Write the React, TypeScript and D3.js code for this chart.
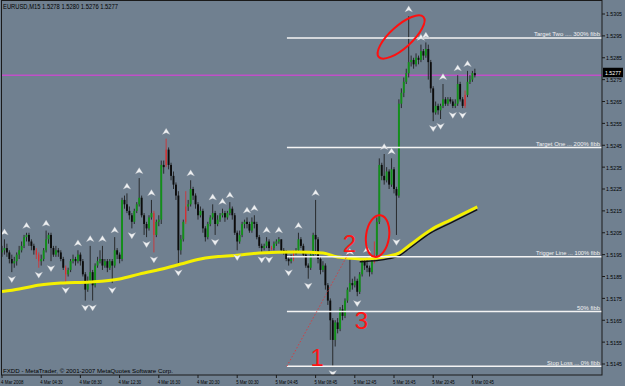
import React from "react";
import * as d3 from "d3";

// ---------- DATA ----------
// [open, high, low, close] for each 15-minute bar (EURUSD M15)
const ohlc: [number, number, number, number][] = [
  [1.5196,1.5199,1.5194,1.5197],[1.5197,1.5202,1.5195,1.5198],[1.5198,1.5200,1.5194,1.5196],[1.5196,1.5197,1.5191,1.5193],
  [1.5193,1.5195,1.5187,1.5191],[1.5191,1.5194,1.5189,1.5192],[1.5192,1.5196,1.5190,1.5195],[1.5195,1.5199,1.5193,1.5197],
  [1.5197,1.5201,1.5196,1.5199],[1.5199,1.5204,1.5198,1.5203],[1.5203,1.5205,1.5201,1.5204],[1.5204,1.5205,1.5199,1.5201],
  [1.5201,1.5202,1.5197,1.5199],[1.5199,1.5200,1.5195,1.5197],[1.5197,1.5198,1.5193,1.5195],[1.5195,1.5196,1.5189,1.5192],
  [1.5192,1.5195,1.5190,1.5193],[1.5193,1.5198,1.5192,1.5197],[1.5197,1.5206,1.5196,1.5202],[1.5202,1.5205,1.5200,1.5204],
  [1.5204,1.5205,1.5192,1.5198],[1.5198,1.5199,1.5194,1.5195],[1.5195,1.5199,1.5194,1.5197],[1.5197,1.5198,1.5194,1.5196],
  [1.5196,1.5197,1.5192,1.5193],[1.5193,1.5194,1.5188,1.5189],[1.5189,1.5190,1.5182,1.5186],[1.5186,1.5189,1.5185,1.5188],
  [1.5188,1.5193,1.5187,1.5192],[1.5192,1.5195,1.5191,1.5193],[1.5193,1.5194,1.5190,1.5192],[1.5192,1.5197,1.5191,1.5195],
  [1.5195,1.5196,1.5190,1.5192],[1.5192,1.5193,1.5185,1.5186],[1.5186,1.5187,1.5174,1.5179],[1.5179,1.5185,1.5178,1.5183],
  [1.5183,1.5199,1.5182,1.5187],[1.5187,1.5188,1.5174,1.5181],[1.5181,1.5191,1.5180,1.5190],[1.5190,1.5194,1.5189,1.5192],
  [1.5192,1.5197,1.5191,1.5193],[1.5193,1.5199,1.5188,1.5190],[1.5190,1.5193,1.5189,1.5192],[1.5192,1.5193,1.5187,1.5189],
  [1.5189,1.5193,1.5188,1.5192],[1.5192,1.5193,1.5182,1.5190],[1.5190,1.5203,1.5189,1.5197],[1.5197,1.5198,1.5193,1.5195],
  [1.5195,1.5196,1.5191,1.5193],[1.5193,1.5221,1.5192,1.5220],[1.5220,1.5222,1.5216,1.5218],[1.5218,1.5223,1.5214,1.5215],
  [1.5215,1.5217,1.5211,1.5213],[1.5213,1.5214,1.5207,1.5210],[1.5210,1.5216,1.5209,1.5215],[1.5215,1.5219,1.5214,1.5218],
  [1.5218,1.5230,1.5217,1.5221],[1.5221,1.5222,1.5212,1.5213],[1.5213,1.5214,1.5204,1.5209],[1.5209,1.5210,1.5203,1.5207],
  [1.5207,1.5213,1.5206,1.5212],[1.5212,1.5220,1.5211,1.5214],[1.5214,1.5215,1.5196,1.5204],[1.5204,1.5211,1.5203,1.5210],
  [1.5210,1.5213,1.5208,1.5211],[1.5211,1.5238,1.5209,1.5236],[1.5236,1.5238,1.5232,1.5235],[1.5236,1.5248,1.5235,1.5243],
  [1.5243,1.5244,1.5234,1.5236],[1.5236,1.5237,1.5229,1.5231],[1.5231,1.5233,1.5225,1.5227],[1.5227,1.5228,1.5220,1.5222],
  [1.5222,1.5224,1.5190,1.5197],[1.5197,1.5204,1.5195,1.5202],[1.5202,1.5211,1.5201,1.5210],[1.5210,1.5224,1.5209,1.5217],
  [1.5217,1.5220,1.5215,1.5218],[1.5218,1.5229,1.5217,1.5225],[1.5225,1.5226,1.5220,1.5222],[1.5222,1.5223,1.5216,1.5218],
  [1.5218,1.5219,1.5211,1.5213],[1.5213,1.5217,1.5212,1.5215],[1.5215,1.5216,1.5205,1.5207],[1.5207,1.5208,1.5201,1.5203],
  [1.5203,1.5210,1.5202,1.5209],[1.5209,1.5213,1.5208,1.5212],[1.5212,1.5218,1.5211,1.5214],[1.5214,1.5215,1.5204,1.5209],
  [1.5209,1.5213,1.5208,1.5211],[1.5211,1.5214,1.5210,1.5213],[1.5213,1.5216,1.5212,1.5214],[1.5214,1.5215,1.5210,1.5212],
  [1.5212,1.5215,1.5211,1.5214],[1.5214,1.5219,1.5213,1.5216],[1.5216,1.5217,1.5211,1.5213],[1.5213,1.5214,1.5204,1.5205],
  [1.5205,1.5206,1.5197,1.5201],[1.5201,1.5206,1.5200,1.5204],[1.5204,1.5210,1.5203,1.5209],[1.5209,1.5211,1.5207,1.5210],
  [1.5210,1.5212,1.5207,1.5209],[1.5209,1.5210,1.5205,1.5206],[1.5206,1.5212,1.5205,1.5210],[1.5210,1.5213,1.5207,1.5209],
  [1.5209,1.5210,1.5202,1.5203],[1.5203,1.5204,1.5198,1.5199],[1.5199,1.5200,1.5196,1.5198],[1.5198,1.5200,1.5197,1.5199],
  [1.5199,1.5203,1.5198,1.5201],[1.5201,1.5202,1.5196,1.5198],[1.5198,1.5199,1.5197,1.5198],[1.5198,1.5201,1.5197,1.5200],
  [1.5200,1.5202,1.5199,1.5201],[1.5201,1.5203,1.5200,1.5202],[1.5202,1.5202,1.5196,1.5197],[1.5197,1.5198,1.5195,1.5196],
  [1.5196,1.5197,1.5192,1.5193],[1.5193,1.5194,1.5190,1.5192],[1.5192,1.5195,1.5191,1.5193],[1.5193,1.5197,1.5192,1.5196],
  [1.5196,1.5198,1.5195,1.5197],[1.5197,1.5205,1.5196,1.5202],[1.5202,1.5203,1.5198,1.5199],[1.5199,1.5200,1.5194,1.5195],
  [1.5195,1.5196,1.5189,1.5190],[1.5190,1.5191,1.5184,1.5189],[1.5189,1.5196,1.5188,1.5195],[1.5195,1.5205,1.5194,1.5204],
  [1.5204,1.5220,1.5195,1.5202],[1.5202,1.5203,1.5191,1.5193],[1.5193,1.5194,1.5186,1.5188],[1.5188,1.5192,1.5187,1.5190],
  [1.5190,1.5191,1.5179,1.5181],[1.5181,1.5182,1.5172,1.5174],[1.5174,1.5175,1.5156,1.5165],[1.5165,1.5166,1.5144,1.5156],
  [1.5156,1.5165,1.5153,1.5164],[1.5164,1.5166,1.5159,1.5161],[1.5161,1.5171,1.5160,1.5170],[1.5170,1.5172,1.5165,1.5167],
  [1.5167,1.5175,1.5166,1.5174],[1.5174,1.5180,1.5173,1.5179],[1.5179,1.5193,1.5178,1.5182],[1.5182,1.5184,1.5179,1.5181],
  [1.5181,1.5185,1.5180,1.5183],[1.5183,1.5184,1.5176,1.5178],[1.5178,1.5187,1.5177,1.5186],[1.5186,1.5193,1.5185,1.5192],
  [1.5192,1.5193,1.5188,1.5190],[1.5190,1.5194,1.5187,1.5189],[1.5189,1.5190,1.5185,1.5187],[1.5187,1.5193,1.5186,1.5192],
  [1.5192,1.5201,1.5191,1.5195],[1.5195,1.5212,1.5194,1.5210],[1.5210,1.5239,1.5209,1.5236],[1.5236,1.5237,1.5229,1.5231],
  [1.5231,1.5241,1.5227,1.5229],[1.5229,1.5235,1.5228,1.5233],[1.5233,1.5234,1.5225,1.5227],[1.5227,1.5239,1.5226,1.5234],
  [1.5234,1.5235,1.5223,1.5225],[1.5225,1.5226,1.5204,1.5222],[1.5222,1.5266,1.5221,1.5264],[1.5264,1.5271,1.5262,1.5269],
  [1.5269,1.5276,1.5267,1.5274],[1.5274,1.5280,1.5273,1.5278],[1.5278,1.5304,1.5276,1.5283],[1.5283,1.5286,1.5281,1.5284],
  [1.5284,1.5285,1.5280,1.5282],[1.5282,1.5287,1.5281,1.5285],[1.5285,1.5286,1.5282,1.5284],[1.5284,1.5291,1.5283,1.5288],
  [1.5288,1.5289,1.5284,1.5286],[1.5286,1.5292,1.5285,1.5289],[1.5289,1.5291,1.5275,1.5283],[1.5283,1.5284,1.5269,1.5271],
  [1.5271,1.5272,1.5256,1.5260],[1.5260,1.5265,1.5259,1.5263],[1.5263,1.5264,1.5259,1.5261],[1.5261,1.5264,1.5257,1.5263],
  [1.5263,1.5273,1.5262,1.5266],[1.5266,1.5267,1.5263,1.5264],[1.5264,1.5267,1.5263,1.5266],[1.5266,1.5267,1.5264,1.5265],
  [1.5265,1.5266,1.5262,1.5263],[1.5263,1.5266,1.5262,1.5264],[1.5264,1.5277,1.5263,1.5273],[1.5273,1.5274,1.5265,1.5266],
  [1.5266,1.5267,1.5262,1.5263],[1.5263,1.5270,1.5262,1.5268],[1.5268,1.5279,1.5267,1.5274],[1.5274,1.5277,1.5273,1.5275],
  [1.5275,1.5279,1.5274,1.5278],[1.5278,1.5280,1.5276,1.5277],
];
const redBars = [14, 15, 26, 62, 67, 75, 110, 119, 152, 189];
const fractalUp = [1, 10, 18, 31, 36, 41, 46, 51, 56, 61, 67, 77, 86, 90, 93, 100, 103, 108, 113, 121, 128, 142, 149, 156, 159, 166, 171, 173, 180, 186, 190];
const fractalDown = [4, 15, 20, 26, 34, 37, 45, 53, 59, 62, 72, 87, 96, 106, 109, 117, 125, 135, 145, 161, 176, 179, 184, 188];
const maYellow: [number, number][] = [
  [0, 1.51781], [7, 1.51793], [15.5, 1.51811], [24, 1.5182], [36, 1.51825], [48, 1.51839], [56, 1.51861],
  [67, 1.51889], [73, 1.51907], [81, 1.5193], [97, 1.51948], [105, 1.51957], [120, 1.51962], [131, 1.51957],
  [137, 1.51939], [141, 1.51935], [147, 1.5193], [153, 1.51935], [158, 1.51944], [162, 1.51957],
  [166.5, 1.51994], [175, 1.52063], [183, 1.52108], [194, 1.52168],
];
const maBlack: [number, number][] = [
  [146, 1.51922], [153, 1.51927], [158, 1.51936], [162, 1.51949], [166.5, 1.51985], [175, 1.52054],
  [183, 1.52099], [194, 1.5216],
];
const fibLevels = [1.5294, 1.5244, 1.5194, 1.5169, 1.5144];
const fibLabels = ["Target Two .... 300% fibb", "Target One ... 200% fibb", "Trigger Line ... 100% fibb", "50% fibb", "Stop Loss ... 0% fibb"];
const fibLabelWidths = [66, 64, 64, 23, 53];
const fibStartBar = 116.3;
const priceTicks = [1.5145, 1.5155, 1.5165, 1.5175, 1.5185, 1.5195, 1.5205, 1.5215, 1.5225, 1.5235, 1.5245, 1.5255, 1.5265, 1.5275, 1.5285, 1.5295, 1.5305];
const timeTickBars = [0, 16, 32, 48, 64, 80, 96, 112, 128, 144, 160, 176, 192];
const timeLabels = ["4 Mar 2008", "4 Mar 04:30", "4 Mar 08:30", "4 Mar 12:30", "4 Mar 16:30", "4 Mar 20:30", "5 Mar 00:30", "5 Mar 04:45", "5 Mar 08:45", "5 Mar 12:45", "5 Mar 16:45", "5 Mar 20:45", "6 Mar 00:45"];
const bidPrice = 1.5277;
const titleText = "EURUSD,M15  1.5278 1.5280 1.5276 1.5277";
const copyrightText = "FXDD - MetaTrader, \u00a9 2001-2007 MetaQuotes Software Corp.";
// annotations: [bar, price]
const dottedLine: [number, number][] = [[116.3, 1.5144], [141.6, 1.5196]];
const ellipses: { bar: number; price: number; rx: number; ry: number; rot: number }[] = [
  { bar: 162.9, price: 1.52945, rx: 30, ry: 11, rot: -42 },
  { bar: 153.3, price: 1.52035, rx: 11.5, ry: 21, rot: 8 },
];
const numberLabels: { text: string; bar: number; price: number }[] = [
  { text: "1", bar: 128.6, price: 1.51441 },
  { text: "2", bar: 141.8, price: 1.5196 },
  { text: "3", bar: 146.7, price: 1.5161 },
];

// ---------- CHART ----------
const W = 625;
const H = 386;
const PLOT_RIGHT = 602;
const PLOT_BOTTOM = 375;
const FONT = "'Liberation Sans', Arial, sans-serif";

export default function App() {
  const x = d3.scaleLinear().domain([0, 193]).range([2, 2 + 193 * 2.45]);
  const y = d3.scaleLinear().domain([1.5145, 1.5305]).range([364, 14]);
  const lineGen = d3
    .line<[number, number]>()
    .x((d) => x(d[0]))
    .y((d) => y(d[1]))
    .curve(d3.curveMonotoneX);

  const redSet = new Set(redBars);
  const upPath = "M0,-3.5 L3.9,2.8 L0,1.1 L-3.9,2.8 Z";
  const downPath = "M0,3.5 L3.9,-2.8 L0,-1.1 L-3.9,-2.8 Z";
  const bidY = y(bidPrice);

  return (
    <svg
      width={W}
      height={H}
      style={{ position: "absolute", left: 0, top: 0, display: "block" }}
      fontFamily={FONT}
    >
      <rect x={0} y={0} width={W} height={H} fill="#708090" />
      <defs>
        <clipPath id="plot">
          <rect x={1.5} y={0.5} width={PLOT_RIGHT - 1.5} height={PLOT_BOTTOM - 0.5} />
        </clipPath>
      </defs>

      <g clipPath="url(#plot)">
        {/* bid line */}
        <line x1={1} x2={PLOT_RIGHT} y1={bidY} y2={bidY} stroke="#c050c8" strokeWidth={1.6} />

        {/* candles */}
        {ohlc.map(([o, h, l, c], i) => {
          const cx = x(i);
          const red = redSet.has(i);
          const bull = c >= o;
          const top = y(Math.max(o, c));
          const bh = Math.max(1, Math.abs(y(o) - y(c)));
          const wickColor = red ? "#e02828" : "#1c1c1c";
          const bodyColor = red ? "#e02828" : bull ? "#12901a" : "#0c0c0c";
          return (
            <g key={i}>
              <line x1={cx} x2={cx} y1={y(h)} y2={y(l)} stroke={wickColor} strokeWidth={red ? 0.9 : 1} opacity={0.85} />
              {!red && <rect x={cx - 0.95} y={top} width={1.9} height={bh} fill={bodyColor} />}
              {red && <rect x={cx - 0.5} y={top} width={1} height={bh} fill={bodyColor} />}
            </g>
          );
        })}

        {/* moving averages */}
        <path d={lineGen(maYellow) || ""} fill="none" stroke="#f4f000" strokeWidth={3} />
        <path d={lineGen(maBlack) || ""} fill="none" stroke="#101010" strokeWidth={1.4} transform="translate(0,1)" />

        {/* fibonacci levels */}
        {fibLevels.map((lv, k) => (
          <g key={k}>
            <line x1={x(fibStartBar)} x2={PLOT_RIGHT} y1={y(lv)} y2={y(lv)} stroke="#f4f4f4" strokeWidth={1.6} />
            <text
              x={600}
              y={y(lv) - 1.6}
              textAnchor="end"
              fontSize={6.2}
              fill="#f0f0f0"
              textLength={fibLabelWidths[k]}
              lengthAdjust="spacingAndGlyphs"
            >
              {fibLabels[k]}
            </text>
          </g>
        ))}

        {/* fractals */}
        {fractalUp.map((i) => (
          <path key={"u" + i} d={upPath} transform={`translate(${x(i)},${y(ohlc[i][1]) - 7})`} fill="#eef0f2" stroke="#a0a8b0" strokeWidth={0.3} />
        ))}
        {fractalDown.map((i) => (
          <path key={"d" + i} d={downPath} transform={`translate(${x(i)},${y(ohlc[i][2]) + 7})`} fill="#eef0f2" stroke="#a0a8b0" strokeWidth={0.3} />
        ))}

        {/* annotations */}
        <line
          x1={x(dottedLine[0][0])}
          y1={y(dottedLine[0][1])}
          x2={x(dottedLine[1][0])}
          y2={y(dottedLine[1][1])}
          stroke="#e83030"
          strokeWidth={1}
          strokeDasharray="1.2,2.2"
        />
        {ellipses.map((e, k) => (
          <ellipse
            key={k}
            cx={0}
            cy={0}
            rx={e.rx}
            ry={e.ry}
            transform={`translate(${x(e.bar)},${y(e.price)}) rotate(${e.rot})`}
            fill="none"
            stroke="#ff1010"
            strokeWidth={2}
          />
        ))}
        {numberLabels.map((n, k) => (
          <text key={k} x={x(n.bar)} y={y(n.price)} textAnchor="middle" fontSize={24} fill="#ff1414">
            {n.text}
          </text>
        ))}

        {/* title & copyright */}
        <text x={3} y={8.5} fontSize={7} fill="#000" textLength={115} lengthAdjust="spacingAndGlyphs">
          {titleText}
        </text>
        <text x={3} y={372.5} fontSize={6} fill="#000" textLength={170} lengthAdjust="spacingAndGlyphs">
          {copyrightText}
        </text>
      </g>

      {/* frame */}
      <rect x={1.5} y={0.5} width={PLOT_RIGHT - 1.5} height={PLOT_BOTTOM - 0.5} fill="none" stroke="#1a1a1a" strokeWidth={1} />

      {/* price axis */}
      {priceTicks.map((p) => (
        <g key={p}>
          <line x1={PLOT_RIGHT} x2={PLOT_RIGHT + 3} y1={y(p)} y2={y(p)} stroke="#1a1a1a" />
          <text x={PLOT_RIGHT + 4} y={y(p) + 2.4} fontSize={6} fill="#000" textLength={16} lengthAdjust="spacingAndGlyphs">
            {p.toFixed(4)}
          </text>
        </g>
      ))}
      <rect x={PLOT_RIGHT + 1} y={bidY - 7.5} width={20} height={9.5} fill="#000" />
      <text x={PLOT_RIGHT + 3} y={bidY - 0.6} fontSize={6} fill="#fff" textLength={16} lengthAdjust="spacingAndGlyphs">
        {bidPrice.toFixed(4)}
      </text>

      {/* time axis */}
      {timeTickBars.map((b, k) => (
        <g key={b}>
          <line x1={x(b)} x2={x(b)} y1={PLOT_BOTTOM} y2={PLOT_BOTTOM + 3} stroke="#1a1a1a" />
          <text x={x(b) - 1} y={384} fontSize={6.2} fill="#000" textLength={22.5} lengthAdjust="spacingAndGlyphs">
            {timeLabels[k]}
          </text>
        </g>
      ))}
    </svg>
  );
}
